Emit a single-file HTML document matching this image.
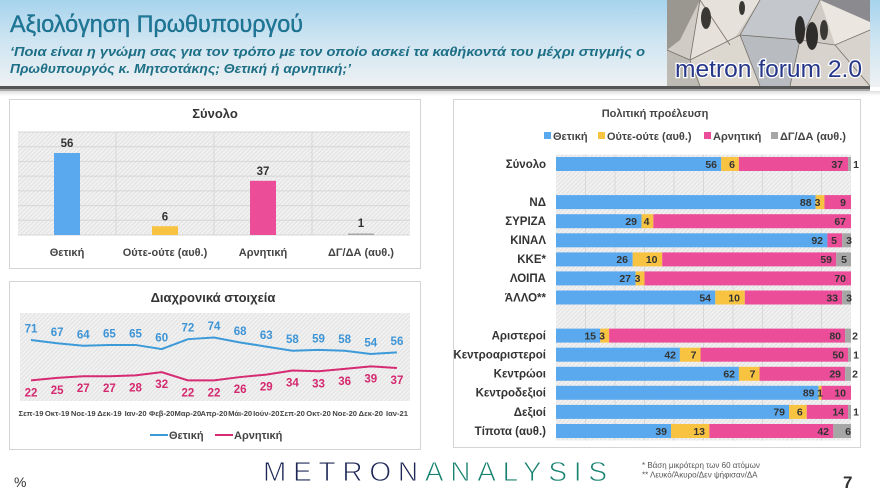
<!DOCTYPE html>
<html><head><meta charset="utf-8"><style>
html,body{margin:0;padding:0;background:#fff;}
svg{display:block;font-family:"Liberation Sans","DejaVu Sans",sans-serif;}
</style></head><body>
<svg width="880" height="495" viewBox="0 0 880 495" xmlns="http://www.w3.org/2000/svg">
<defs>
<linearGradient id="hdr" x1="0" y1="0" x2="0" y2="1">
<stop offset="0" stop-color="#a6d3ed"/><stop offset="0.45" stop-color="#cde4f1"/><stop offset="1" stop-color="#eef1f3"/>
</linearGradient>
<linearGradient id="sep" x1="0" y1="0" x2="0" y2="1">
<stop offset="0" stop-color="#e0e0e0"/><stop offset="1" stop-color="#ffffff"/>
</linearGradient>
<pattern id="hatch" width="3" height="3" patternUnits="userSpaceOnUse" patternTransform="rotate(45)">
<rect width="3" height="3" fill="#f1f1f1"/><rect width="1" height="3" fill="#e1e1e1"/>
</pattern>
</defs>

<!-- header -->
<rect x="0" y="0" width="880" height="87" fill="url(#hdr)"/>
<rect x="0" y="86" width="870" height="3" fill="#555"/>
<rect x="0" y="89" width="870" height="2" fill="#a8a8a8"/>
<rect x="0" y="91" width="880" height="5" fill="url(#sep)"/>
<text x="10" y="32" font-size="24" fill="#1b7a9b" stroke="#0d4f66" stroke-width="0.3" textLength="293" lengthAdjust="spacingAndGlyphs">Αξιολόγηση Πρωθυπουργού</text>
<text x="10" y="56" font-size="13" font-weight="bold" font-style="italic" fill="#1d6f86" textLength="635" lengthAdjust="spacingAndGlyphs">‘Ποια είναι η γνώμη σας για τον τρόπο με τον οποίο ασκεί τα καθήκοντά του μέχρι στιγμής ο</text>
<text x="10" y="73" font-size="13" font-weight="bold" font-style="italic" fill="#1d6f86" textLength="341" lengthAdjust="spacingAndGlyphs">Πρωθυπουργός κ. Μητσοτάκης; Θετική ή αρνητική;’</text>

<!-- logo -->
<g>
<rect x="667" y="0" width="203" height="86" fill="#d0cbc4"/>
<polygon points="667,0 700,0 680,40 667,50" fill="#9a9791"/>
<polygon points="700,0 760,0 730,45 690,60" fill="#e6e1da"/>
<polygon points="760,0 820,0 800,40 740,35" fill="#c4c7cb"/>
<polygon points="820,0 870,0 870,30 835,45" fill="#ebe6df"/>
<polygon points="690,60 740,35 760,86 700,86" fill="#dcd7cf"/>
<polygon points="740,35 800,40 790,86 760,86" fill="#b8bcc1"/>
<polygon points="800,40 835,45 870,30 870,86 790,86" fill="#d8d3cc"/>
<polygon points="667,50 690,60 700,86 667,86" fill="#bdb9b3"/>
<g stroke="#76716a" stroke-width="0.8" fill="none">
<polyline points="667,50 690,60 740,35 800,40 835,45 870,30"/>
<polyline points="700,0 690,60 700,86"/>
<polyline points="760,0 740,35 760,86"/>
<polyline points="820,0 800,40 790,86"/>
<polyline points="730,45 700,0"/>
<polyline points="835,45 870,86"/>
</g>
<polygon points="820,0 870,0 870,22" fill="#4b4f5a" opacity="0.6"/>
<ellipse cx="706" cy="18" rx="5" ry="11" fill="#3a3835"/>
<ellipse cx="742" cy="8" rx="3" ry="7" fill="#3a3835"/>
<ellipse cx="800" cy="30" rx="5" ry="14" fill="#2f2d2b"/>
<ellipse cx="812" cy="36" rx="6" ry="14" fill="#2f2d2b"/>
<ellipse cx="824" cy="30" rx="4" ry="10" fill="#3b3936"/>
<text x="675" y="77" font-size="24" fill="#26378a" stroke="#ffffff" stroke-width="2.5" paint-order="stroke" textLength="187" lengthAdjust="spacingAndGlyphs">metron forum 2.0</text>
</g>

<!-- Left top panel -->
<rect x="9.5" y="99.5" width="411" height="169" fill="#fff" stroke="#d4d4d4"/>
<text x="215" y="118" font-size="13" font-weight="bold" fill="#333" text-anchor="middle">Σύνολο</text>
<rect x="18" y="132" width="392" height="103" fill="url(#hatch)"/>
<g stroke="#d6d6d6" stroke-width="1">
<line x1="18" y1="132" x2="410" y2="132"/><line x1="18" y1="146.7" x2="410" y2="146.7"/>
<line x1="18" y1="161.4" x2="410" y2="161.4"/><line x1="18" y1="176.1" x2="410" y2="176.1"/>
<line x1="18" y1="190.9" x2="410" y2="190.9"/><line x1="18" y1="205.6" x2="410" y2="205.6"/>
<line x1="18" y1="220.3" x2="410" y2="220.3"/><line x1="18" y1="235" x2="410" y2="235"/>
<line x1="116" y1="132" x2="116" y2="235"/><line x1="214" y1="132" x2="214" y2="235"/><line x1="312" y1="132" x2="312" y2="235"/>
</g>
<rect x="54" y="153" width="26" height="82" fill="#5aa9ee"/>
<rect x="152" y="226.2" width="26" height="8.8" fill="#f9c342"/>
<rect x="250" y="180.8" width="26" height="54.2" fill="#ec4d99"/>
<rect x="348" y="233.5" width="26" height="1.5" fill="#a6a6a6"/>
<g font-size="11.5" font-weight="bold" fill="#333" text-anchor="middle">
<text x="67" y="147">56</text><text x="165" y="220.5">6</text><text x="263" y="175">37</text><text x="361" y="227">1</text>
</g>
<g font-size="11" font-weight="bold" fill="#444" text-anchor="middle">
<text x="67" y="256">Θετική</text><text x="165" y="256">Ούτε-ούτε (αυθ.)</text><text x="263" y="256">Αρνητική</text><text x="361" y="256">ΔΓ/ΔΑ (αυθ.)</text>
</g>

<!-- Left bottom panel -->
<rect x="9.5" y="281.5" width="411" height="168" fill="#fff" stroke="#d4d4d4"/>
<text x="213" y="302" font-size="13" font-weight="bold" fill="#333" text-anchor="middle">Διαχρονικά στοιχεία</text>
<rect x="20" y="313" width="390" height="88" fill="url(#hatch)"/>
<polyline fill="none" stroke="#3d9ad9" stroke-width="2" points="31,340 57.14,343.3 83.28,345.77 109.42,344.94 135.56,344.94 161.7,349.06 187.84,339.18 213.98,337.53 240.12,342.47 266.26,346.59 292.4,350.71 318.54,349.88 344.68,350.71 370.82,354 396.96,352.35"/>
<polyline fill="none" stroke="#d62a73" stroke-width="2" points="31,380.35 57.14,377.88 83.28,376.24 109.42,376.24 135.56,375.41 161.7,372.12 187.84,380.35 213.98,380.35 240.12,377.06 266.26,374.59 292.4,370.47 318.54,371.29 344.68,368.82 370.82,366.35 396.96,368"/>
<g font-size="11.5" font-weight="bold" fill="#3d94d6" text-anchor="middle">
<text x="31" y="332.5">71</text><text x="57.14" y="335.8">67</text><text x="83.28" y="338.3">64</text><text x="109.42" y="337.4">65</text><text x="135.56" y="337.4">65</text><text x="161.7" y="341.6">60</text><text x="187.84" y="331.7">72</text><text x="213.98" y="330">74</text><text x="240.12" y="335">68</text><text x="266.26" y="339.1">63</text><text x="292.4" y="343.2">58</text><text x="318.54" y="342.4">59</text><text x="344.68" y="343.2">58</text><text x="370.82" y="346.5">54</text><text x="396.96" y="344.9">56</text>
</g>
<g font-size="11.5" font-weight="bold" fill="#d4286f" text-anchor="middle">
<text x="31" y="396.4">22</text><text x="57.14" y="393.9">25</text><text x="83.28" y="392.2">27</text><text x="109.42" y="392.2">27</text><text x="135.56" y="391.4">28</text><text x="161.7" y="388.1">32</text><text x="187.84" y="396.4">22</text><text x="213.98" y="396.4">22</text><text x="240.12" y="393.1">26</text><text x="266.26" y="390.6">29</text><text x="292.4" y="386.5">34</text><text x="318.54" y="387.3">33</text><text x="344.68" y="384.8">36</text><text x="370.82" y="382.4">39</text><text x="396.96" y="384">37</text>
</g>
<g font-size="7.6" font-weight="bold" fill="#444" text-anchor="middle">
<text x="31" y="416">Σεπ-19</text><text x="57.14" y="416">Οκτ-19</text><text x="83.28" y="416">Νοε-19</text><text x="109.42" y="416">Δεκ-19</text><text x="135.56" y="416">Ιαν-20</text><text x="161.7" y="416">Φεβ-20</text><text x="187.84" y="416">Μαρ-20</text><text x="213.98" y="416">Απρ-20</text><text x="240.12" y="416">Μάι-20</text><text x="266.26" y="416">Ιούν-20</text><text x="292.4" y="416">Σεπ-20</text><text x="318.54" y="416">Οκτ-20</text><text x="344.68" y="416">Νοε-20</text><text x="370.82" y="416">Δεκ-20</text><text x="396.96" y="416">Ιαν-21</text>
</g>
<line x1="150" y1="435" x2="168" y2="435" stroke="#3d9ad9" stroke-width="2"/>
<text x="169" y="439" font-size="11" font-weight="bold" fill="#444">Θετική</text>
<line x1="215" y1="435" x2="233" y2="435" stroke="#d62a73" stroke-width="2"/>
<text x="234" y="439" font-size="11" font-weight="bold" fill="#444">Αρνητική</text>

<!-- Right panel -->
<rect x="453.5" y="99.5" width="407" height="348" fill="#fff" stroke="#d4d4d4"/>
<text x="655" y="117" font-size="11" font-weight="bold" fill="#444" text-anchor="middle">Πολιτική προέλευση</text>
<rect x="544" y="132" width="7" height="7" fill="#5aa9ee"/>
<text x="553" y="140" font-size="11" font-weight="bold" fill="#444">Θετική</text>
<rect x="598" y="132" width="7" height="7" fill="#f9c342"/>
<text x="607" y="140" font-size="11" font-weight="bold" fill="#444">Ούτε-ούτε (αυθ.)</text>
<rect x="704" y="132" width="7" height="7" fill="#ec4d99"/>
<text x="713" y="140" font-size="11" font-weight="bold" fill="#444">Αρνητική</text>
<rect x="771" y="132" width="7" height="7" fill="#a6a6a6"/>
<text x="780" y="140" font-size="11" font-weight="bold" fill="#444">ΔΓ/ΔΑ (αυθ.)</text>

<rect x="556" y="154.5" width="295" height="286" fill="url(#hatch)"/>
<g stroke="#d8d8d8" stroke-width="1">
<line x1="585.5" y1="154.5" x2="585.5" y2="440.5"/><line x1="615" y1="154.5" x2="615" y2="440.5"/><line x1="644.5" y1="154.5" x2="644.5" y2="440.5"/><line x1="674" y1="154.5" x2="674" y2="440.5"/><line x1="703.5" y1="154.5" x2="703.5" y2="440.5"/><line x1="733" y1="154.5" x2="733" y2="440.5"/><line x1="762.5" y1="154.5" x2="762.5" y2="440.5"/><line x1="792" y1="154.5" x2="792" y2="440.5"/><line x1="821.5" y1="154.5" x2="821.5" y2="440.5"/>
</g>

<g font-size="11.5" font-weight="bold" fill="#333" text-anchor="end">
<text x="546" y="168">Σύνολο</text>
<text x="546" y="206">ΝΔ</text>
<text x="546" y="225">ΣΥΡΙΖΑ</text>
<text x="546" y="244">ΚΙΝΑΛ</text>
<text x="546" y="263">ΚΚΕ*</text>
<text x="546" y="282">ΛΟΙΠΑ</text>
<text x="546" y="301.5">ΆΛΛΟ**</text>
<text x="546" y="339.5">Αριστεροί</text>
<text x="546" y="358.5">Κεντροαριστεροί</text>
<text x="546" y="377.5">Κεντρώοι</text>
<text x="546" y="396.5">Κεντροδεξιοί</text>
<text x="546" y="416">Δεξιοί</text>
<text x="546" y="435">Τίποτα (αυθ.)</text>
</g>

<!-- bars -->
<g>
<rect x="556" y="157" width="165.2" height="14" fill="#5aa9ee"/><rect x="721.2" y="157" width="17.7" height="14" fill="#f9c342"/><rect x="738.9" y="157" width="109.15" height="14" fill="#ec4d99"/><rect x="848.05" y="157" width="2.95" height="14" fill="#a6a6a6"/>
<rect x="556" y="195.1" width="259.6" height="14" fill="#5aa9ee"/><rect x="815.6" y="195.1" width="8.85" height="14" fill="#f9c342"/><rect x="824.45" y="195.1" width="26.55" height="14" fill="#ec4d99"/>
<rect x="556" y="214.2" width="85.55" height="14" fill="#5aa9ee"/><rect x="641.55" y="214.2" width="11.8" height="14" fill="#f9c342"/><rect x="653.35" y="214.2" width="197.65" height="14" fill="#ec4d99"/>
<rect x="556" y="233.3" width="271.4" height="14" fill="#5aa9ee"/><rect x="827.4" y="233.3" width="14.75" height="14" fill="#ec4d99"/><rect x="842.15" y="233.3" width="8.85" height="14" fill="#a6a6a6"/>
<rect x="556" y="252.4" width="76.7" height="14" fill="#5aa9ee"/><rect x="632.7" y="252.4" width="29.5" height="14" fill="#f9c342"/><rect x="662.2" y="252.4" width="174.05" height="14" fill="#ec4d99"/><rect x="836.25" y="252.4" width="14.75" height="14" fill="#a6a6a6"/>
<rect x="556" y="271.4" width="79.65" height="14" fill="#5aa9ee"/><rect x="635.65" y="271.4" width="8.85" height="14" fill="#f9c342"/><rect x="644.5" y="271.4" width="206.5" height="14" fill="#ec4d99"/>
<rect x="556" y="290.5" width="159.3" height="14" fill="#5aa9ee"/><rect x="715.3" y="290.5" width="29.5" height="14" fill="#f9c342"/><rect x="744.8" y="290.5" width="97.35" height="14" fill="#ec4d99"/><rect x="842.15" y="290.5" width="8.85" height="14" fill="#a6a6a6"/>
<rect x="556" y="328.6" width="44.25" height="14" fill="#5aa9ee"/><rect x="600.25" y="328.6" width="8.85" height="14" fill="#f9c342"/><rect x="609.1" y="328.6" width="236" height="14" fill="#ec4d99"/><rect x="845.1" y="328.6" width="5.9" height="14" fill="#a6a6a6"/>
<rect x="556" y="347.7" width="123.9" height="14" fill="#5aa9ee"/><rect x="679.9" y="347.7" width="20.65" height="14" fill="#f9c342"/><rect x="700.55" y="347.7" width="147.5" height="14" fill="#ec4d99"/><rect x="848.05" y="347.7" width="2.95" height="14" fill="#a6a6a6"/>
<rect x="556" y="366.8" width="182.9" height="14" fill="#5aa9ee"/><rect x="738.9" y="366.8" width="20.65" height="14" fill="#f9c342"/><rect x="759.55" y="366.8" width="85.55" height="14" fill="#ec4d99"/><rect x="845.1" y="366.8" width="5.9" height="14" fill="#a6a6a6"/>
<rect x="556" y="385.8" width="262.55" height="14" fill="#5aa9ee"/><rect x="818.55" y="385.8" width="2.95" height="14" fill="#f9c342"/><rect x="821.5" y="385.8" width="29.5" height="14" fill="#ec4d99"/>
<rect x="556" y="404.9" width="233.05" height="14" fill="#5aa9ee"/><rect x="789.05" y="404.9" width="17.7" height="14" fill="#f9c342"/><rect x="806.75" y="404.9" width="41.3" height="14" fill="#ec4d99"/><rect x="848.05" y="404.9" width="2.95" height="14" fill="#a6a6a6"/>
<rect x="556" y="424" width="115.05" height="14" fill="#5aa9ee"/><rect x="671.05" y="424" width="38.35" height="14" fill="#f9c342"/><rect x="709.4" y="424" width="123.9" height="14" fill="#ec4d99"/><rect x="833.3" y="424" width="17.7" height="14" fill="#a6a6a6"/>
</g>

<g font-size="10.5" font-weight="bold" fill="#333" text-anchor="end">
<text x="717" y="167.8">56</text><text x="735" y="167.8">6</text><text x="843" y="167.8">37</text>
<text x="811.6" y="205.9">88</text><text x="820.5" y="205.9">3</text><text x="846" y="205.9">9</text>
<text x="637" y="225">29</text><text x="649.5" y="225">4</text><text x="846" y="225">67</text>
<text x="823" y="244.1">92</text><text x="837" y="244.1">5</text>
<text x="628" y="263.2">26</text><text x="657.5" y="263.2">10</text><text x="832" y="263.2">59</text>
<text x="631" y="282.2">27</text><text x="640.5" y="282.2">3</text><text x="846" y="282.2">70</text>
<text x="711" y="301.3">54</text><text x="740" y="301.3">10</text><text x="838" y="301.3">33</text>
<text x="596" y="339.4">15</text><text x="605" y="339.4">3</text><text x="841" y="339.4">80</text>
<text x="676" y="358.5">42</text><text x="696.5" y="358.5">7</text><text x="844" y="358.5">50</text>
<text x="735" y="377.6">62</text><text x="755.5" y="377.6">7</text><text x="841" y="377.6">29</text>
<text x="814.5" y="396.6">89</text><text x="823" y="396.6">1</text><text x="846" y="396.6">10</text>
<text x="785" y="415.7">79</text><text x="802.7" y="415.7">6</text><text x="844" y="415.7">14</text>
<text x="667" y="434.8">39</text><text x="705" y="434.8">13</text><text x="829" y="434.8">42</text>
</g>
<g font-size="10.5" font-weight="bold" fill="#333" text-anchor="middle">
<text x="856" y="167.8">1</text>
<text x="849" y="244.1">3</text>
<text x="844" y="263.2">5</text>
<text x="849" y="301.3">3</text>
<text x="855" y="339.4">2</text>
<text x="856" y="358.5">1</text>
<text x="855" y="377.6">2</text>
<text x="856" y="415.7">1</text>
<text x="848" y="434.8">6</text>
</g>

<!-- footer -->
<text x="14" y="487" font-size="14" fill="#333">%</text>
<text x="263" y="481" font-size="28" stroke="#ffffff" stroke-width="0.9" textLength="344" lengthAdjust="spacing"><tspan fill="#1d2756">METRON</tspan><tspan fill="#17826f">ANALYSIS</tspan></text>
<text x="642" y="468" font-size="8" fill="#555">* Βάση μικρότερη των 60 ατόμων</text>
<text x="642" y="477.5" font-size="8" fill="#555">** Λευκό/Άκυρο/Δεν ψήφισαν/ΔΑ</text>
<text x="843" y="488" font-size="17" font-weight="bold" fill="#333">7</text>
</svg>
</body></html>
